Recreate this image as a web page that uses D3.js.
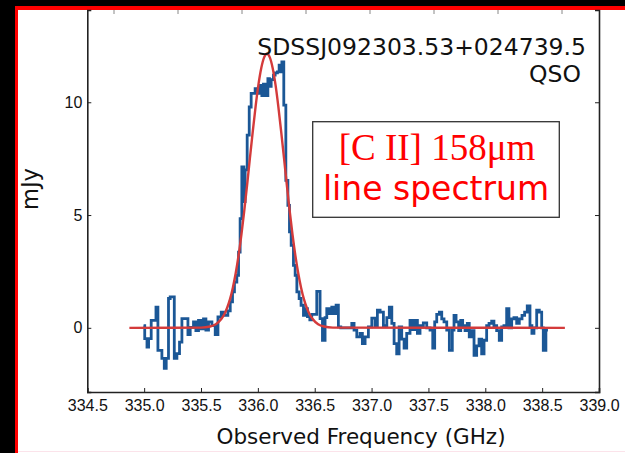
<!DOCTYPE html>
<html>
<head>
<meta charset="utf-8">
<script src="https://cdn.jsdelivr.net/npm/d3@7"></script>
<style>
  body { margin: 0; background: #000; }
  svg { display: block; }
</style>
</head>
<body>
<svg id="spectrum" width="625" height="453"></svg>
<script>
// channel start frequencies (GHz), step-after
const chanFreq = [
  334.995, 335.005, 335.025, 335.039, 335.062, 335.104, 335.121, 335.156, 335.177, 335.194,
  335.214, 335.229, 335.265, 335.288, 335.311, 335.332, 335.385, 335.405, 335.434, 335.455,
  335.478, 335.502, 335.522, 335.543, 335.566, 335.596, 335.625, 335.649, 335.678, 335.698,
  335.736, 335.757, 335.777, 335.794, 335.815, 335.830, 335.844, 335.859, 335.877, 335.888,
  335.906, 335.924, 335.941, 335.976, 336.000, 336.020, 336.035, 336.049, 336.070, 336.088,
  336.102, 336.117, 336.137, 336.152, 336.172, 336.187, 336.199, 336.211, 336.228, 336.246,
  336.264, 336.278, 336.293, 336.313, 336.328, 336.343, 336.363, 336.380, 336.401, 336.416,
  336.436, 336.457, 336.474, 336.518, 336.547, 336.568, 336.591, 336.606, 336.627, 336.650,
  336.670, 336.688, 336.708, 336.729, 336.826, 336.846, 336.870, 336.899, 336.919, 336.943,
  336.972, 337.002, 337.031, 337.051, 337.075, 337.104, 337.134, 337.156, 337.178, 337.198,
  337.221, 337.242, 337.265, 337.286, 337.309, 337.338, 337.359, 337.382, 337.403, 337.426,
  337.455, 337.485, 337.514, 337.538, 337.555, 337.573, 337.596, 337.617, 337.637, 337.661,
  337.684, 337.710, 337.725, 337.743, 337.766, 337.784, 337.801, 337.822, 337.842, 337.859,
  337.881, 337.901, 337.924, 337.945, 337.968, 337.989, 338.012, 338.033, 338.056, 338.076,
  338.100, 338.123, 338.144, 338.164, 338.188, 338.208, 338.232, 338.252, 338.276, 338.299,
  338.323, 338.346, 338.369, 338.393, 338.410, 338.428, 338.452, 338.475, 338.496, 338.510,
  338.533, 338.551
];
// flux density (mJy); last value repeats to close the final step
const chanFlux = [
  0.10, -0.48, -0.85, -0.48, 0.33, 0.92, -1.00, -1.35, -1.80, -1.35,
  1.30, 1.37, -1.35, -1.14, -0.63, 0.41, -0.30, 0.02, 0.26, -0.12,
  0.33, -0.05, 0.40, -0.10, 0.26, 0.10, -0.30, 0.48, 0.70, 0.55,
  0.75, 1.15, 1.59, 2.03, 2.33, 3.36, 4.84, 7.13, 5.60, 7.00,
  8.54, 9.79, 10.39, 10.60, 10.40, 10.75, 10.30, 10.80, 10.30, 11.05,
  10.70, 11.00, 11.20, 11.30, 11.35, 11.64, 11.35, 11.79, 9.87, 6.54,
  5.43, 4.25, 3.66, 2.77, 2.33, 1.59, 1.30, 1.00, 0.55, 0.85,
  0.50, 0.35, 0.60, 1.62, 0.41, -0.55, 0.45, 0.85, 0.63, 0.92,
  0.63, 1.00, 0.04, 0.00, 0.20, -0.10, -0.40, -0.25, -0.70, -0.40,
  0.04, 0.43, 0.10, 0.78, 0.70, 0.10, 0.45, 0.92, 0.20, -0.70,
  -1.15, 0.04, -0.50, -0.90, -0.25, 0.33, -0.08, 0.33, -0.25, 0.10,
  0.22, 0.00, -0.10, -0.90, 0.26, 0.60, 0.70, 0.40, 0.26, -0.10,
  -1.00, -0.10, 0.55, 0.26, -0.12, 0.33, 0.10, -0.12, 0.20, -0.40,
  -0.12, -1.22, -0.80, -0.50, -1.15, -0.55, 0.10, 0.20, 0.30, 0.10,
  -0.12, -0.55, 0.04, 0.10, 0.85, 0.00, 0.40, 0.45, 0.20, 0.40,
  0.55, 0.70, 0.97, 0.10, -0.25, 0.00, 0.78, 0.70, 0.00, -1.00,
  -0.10, -0.10
];

// gaussian fit curve, sampled
const fitFreq = [
  334.870, 335.500, 335.580, 335.630, 335.680, 335.705, 335.730, 335.755, 335.780, 335.805,
  335.830, 335.855, 335.880, 335.905, 335.930, 335.955, 335.980, 336.005, 336.030, 336.055,
  336.080, 336.105, 336.130, 336.155, 336.180, 336.205, 336.230, 336.255, 336.280, 336.305,
  336.330, 336.355, 336.380, 336.405, 336.430, 336.455, 336.480, 336.530, 336.580, 336.660,
  338.700
];
const fitFlux = [
  0.00, 0.01, 0.06, 0.16, 0.40, 0.60, 0.89, 1.27, 1.78, 2.42,
  3.20, 4.12, 5.17, 6.32, 7.52, 8.70, 9.81, 10.78, 11.52, 11.99,
  12.15, 11.99, 11.52, 10.78, 9.81, 8.70, 7.52, 6.32, 5.17, 4.12,
  3.20, 2.42, 1.78, 1.27, 0.89, 0.60, 0.40, 0.16, 0.06, 0.01,
  0.00
];

const xTicks = [334.5, 335.0, 335.5, 336.0, 336.5, 337.0, 337.5, 338.0, 338.5, 339.0];
const yTicks = [0, 5, 10];
const targetName = "SDSSJ092303.53+024739.5";
const targetType = "QSO";

const svg = d3.select("#spectrum");
const W = +svg.attr("width");
const H = +svg.attr("height");

// frame: black edges, red border, white page
svg.append("rect").attr("width", W).attr("height", H).attr("fill", "#000");
svg.append("rect").attr("x", 15).attr("y", 6).attr("width", W - 15).attr("height", H - 6).attr("fill", "#f00");
svg.append("rect").attr("x", 18).attr("y", 10).attr("width", W - 18).attr("height", H - 10).attr("fill", "#fff");
svg.append("line").attr("x1", 18).attr("x2", W).attr("y1", H - 1.5).attr("y2", H - 1.5)
  .attr("stroke", "#fbe3ea").attr("stroke-width", 1);

const plotL = 87.3, plotR = 599, plotT = 10, plotB = 392;
const x = d3.scaleLinear().domain([334.5, 339.0]).range([plotL, plotR]);
const y = d3.scaleLinear().domain([-2.845, 14.09]).range([plotB, plotT]);

// ticks of the panel above (only its bottom edge shows)
const xAbove = d3.scaleLinear().domain([0, 1]).range([114, 178]);
svg.append("g").selectAll("line").data(d3.range(8)).join("line")
  .attr("x1", d => xAbove(d)).attr("x2", d => xAbove(d))
  .attr("y1", plotT).attr("y2", plotT + 4)
  .attr("stroke", "#888").attr("stroke-width", 1);

const tickFont = "'Liberation Sans', Arial, sans-serif";

const gx = svg.append("g").attr("transform", `translate(0,${plotB})`)
  .call(d3.axisBottom(x).tickValues(xTicks).tickFormat(d3.format(".1f")).tickSize(-4).tickPadding(8));
const gy = svg.append("g").attr("transform", `translate(${plotL},0)`)
  .call(d3.axisLeft(y).tickValues(yTicks).tickFormat(d3.format("d")).tickSize(-4).tickPadding(5));
const gr = svg.append("g").attr("transform", `translate(${plotR},0)`)
  .call(d3.axisRight(y).tickValues(yTicks).tickFormat("").tickSize(-4));

[gx, gy, gr].forEach(g => {
  g.select(".domain").attr("stroke", "#222").attr("stroke-width", 1.6);
  g.selectAll(".tick line").attr("stroke", "#222").attr("stroke-width", 1);
  g.selectAll(".tick text").attr("font-family", tickFont).attr("font-size", 16).attr("fill", "#111");
});

// spectrum (step) and fit
const stepPts = chanFreq.map((f, i) => [f, chanFlux[i]]);
const fitPts = fitFreq.map((f, i) => [f, fitFlux[i]]);

svg.append("path").datum(stepPts)
  .attr("d", d3.line().x(d => x(d[0])).y(d => y(d[1])).curve(d3.curveStepAfter))
  .attr("fill", "none").attr("stroke", "#1b5796").attr("stroke-width", 2.8)
  .attr("stroke-linejoin", "miter");

svg.append("path").datum(fitPts)
  .attr("d", d3.line().x(d => x(d[0])).y(d => y(d[1])).curve(d3.curveMonotoneX))
  .attr("fill", "none").attr("stroke", "#d43b3b").attr("stroke-width", 2.4);

// labels
svg.append("text").attr("x", 361).attr("y", 444).attr("text-anchor", "middle")
  .attr("font-family", "'DejaVu Sans', sans-serif").attr("font-size", 21.5).attr("fill", "#111")
  .text("Observed Frequency (GHz)");
svg.append("text").attr("transform", "translate(38,189) rotate(-90)").attr("text-anchor", "middle")
  .attr("font-family", "'DejaVu Sans', sans-serif").attr("font-size", 22.5).attr("fill", "#111")
  .text("mJy");

svg.append("text").attr("x", 586).attr("y", 55).attr("text-anchor", "end")
  .attr("font-family", "'DejaVu Sans', sans-serif").attr("font-size", 23.5).attr("fill", "#111")
  .text(targetName);
svg.append("text").attr("x", 581).attr("y", 82).attr("text-anchor", "end")
  .attr("font-family", "'DejaVu Sans', sans-serif").attr("font-size", 23.5).attr("fill", "#111")
  .text(targetType);

// annotation box
svg.append("rect").attr("x", 312.7).attr("y", 121.7).attr("width", 246.6).attr("height", 95.6)
  .attr("fill", "#fff").attr("stroke", "#333").attr("stroke-width", 1.3);
svg.append("text").attr("x", 437).attr("y", 160).attr("text-anchor", "middle")
  .attr("font-family", "'Liberation Serif', 'Times New Roman', serif").attr("font-size", 37).attr("fill", "#f00")
  .text("[C II] 158μm");
svg.append("text").attr("x", 436).attr("y", 200).attr("text-anchor", "middle")
  .attr("font-family", "'DejaVu Sans', sans-serif").attr("font-size", 33).attr("fill", "#f00")
  .text("line spectrum");
</script>
</body>
</html>
